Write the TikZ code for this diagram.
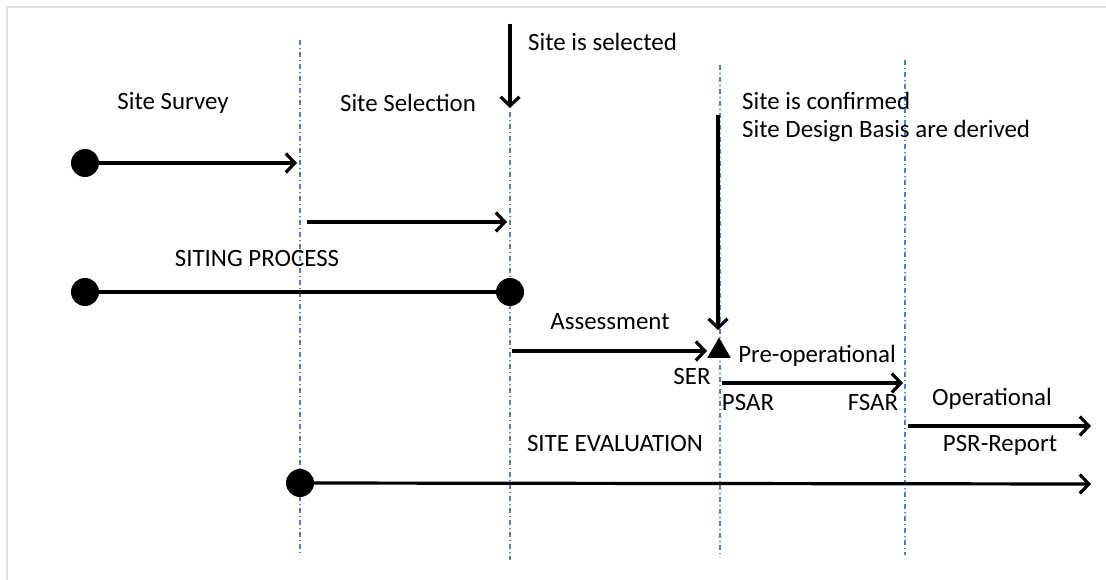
\documentclass[tikz,border=0pt]{standalone}
\usepackage{fontspec}
\setmainfont{Carlito}
\usetikzlibrary{arrows.meta,shapes.geometric}
\begin{document}
\begin{tikzpicture}[x=1bp,y=-1bp,
  lbl/.style={font=\fontsize{25}{30}\selectfont, text=black, inner sep=0pt},
  guide/.style={draw={rgb,255:red,79;green,129;blue,189}, line width=1.2bp, dash pattern=on 5bp off 3bp on 1bp off 3bp},
  flow/.style={line width=3.2bp, -{Straight Barb[length=9bp,width=19bp,line width=3.2bp]}},
  plain/.style={line width=3.2bp},
  dotc/.style={circle, fill=black, minimum size=28bp, inner sep=0pt},
  tri/.style={regular polygon, regular polygon sides=3, fill=black, minimum size=27bp, inner sep=0pt}]
\useasboundingbox (0,0) rectangle (1106,580);
% frame
\draw[gray!25, line width=2bp] (7,580) -- (7,7) -- (1106,7);
% guides
\coordinate (g1t) at (300,40);  \coordinate (g1b) at (300,555);
\coordinate (g2t) at (510,112); \coordinate (g2b) at (510,560);
\coordinate (g3t) at (720,65);  \coordinate (g3b) at (720,555);
\coordinate (g4t) at (905,60);  \coordinate (g4b) at (905,555);
\draw[guide] (g1t) -- (g1b);
\draw[guide] (g2t) -- (g2b);
\draw[guide] (g3t) -- (g3b);
\draw[guide] (g4t) -- (g4b);
% labels
\node[lbl] (survey) at (173,103) {Site Survey};
\node[lbl] (selection) at (408,103) {Site Selection};
\node[lbl] (siting) at (257,259) {SITING PROCESS};
\node[lbl, anchor=west] (selected) at (528,42) {Site is selected};
\node[lbl, anchor=west] (confirmed) at (742,101) {Site is confirmed};
\node[lbl, anchor=west] (basis) at (742,131) {Site Design Basis are derived};
\node[lbl] (assess) at (610,322) {Assessment};
\node[lbl] (ser) at (692,377) {SER};
\node[lbl] (preop) at (817,356) {Pre-operational};
\node[lbl] (psar) at (748,403) {PSAR};
\node[lbl] (fsar) at (873,403) {FSAR};
\node[lbl] (op) at (992,399) {Operational};
\node[lbl] (psr) at (1000,445) {PSR-Report};
\node[lbl] (siteeval) at (615,444) {SITE EVALUATION};
% dots
\node[dotc] (d1) at (85,163) {};
\node[dotc] (d2) at (85,292) {};
\node[dotc] (d3) at (510,292) {};
\node[dotc] (d4) at (300,483) {};
\node[tri] (t1) at (719,351) {};
% coordinates
\coordinate (a1e) at (297,163);
\coordinate (a2s) at (307,222); \coordinate (a2e) at (507,222);
\coordinate (sels) at (510,24); \coordinate (sele) at (510,108);
\coordinate (cons) at (718,115); \coordinate (cone) at (718,330);
\coordinate (as) at (512,351); \coordinate (ae) at (707,351);
\coordinate (ps) at (722,383); \coordinate (pe) at (903,383);
\coordinate (os) at (908,426); \coordinate (oe) at (1091,426);
\coordinate (ee) at (1091,484);
% connectors
\draw[flow] (d1) -- (a1e);
\draw[flow] (a2s) -- (a2e);
\draw[plain] (d2) -- (d3);
\draw[flow] (sels) -- (sele);
\draw[flow] (cons) -- (cone);
\draw[flow] (as) -- (ae);
\draw[flow] (ps) -- (pe);
\draw[flow] (os) -- (oe);
\draw[flow] (d4) -- (ee);
\end{tikzpicture}
\end{document}
